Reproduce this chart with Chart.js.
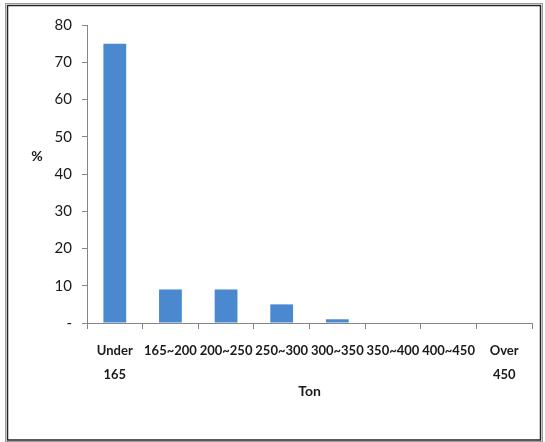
<!DOCTYPE html>
<html>
<head>
<meta charset="utf-8">
<script src="https://cdn.jsdelivr.net/npm/chart.js@4/dist/chart.umd.min.js"></script>
<style>
  html, body { margin: 0; padding: 0; background: #fff; }
  #wrap { width: 545px; height: 442px; position: relative; }
</style>
</head>
<body>
<div id="wrap"><canvas id="c" width="545" height="442"></canvas></div>
<script>
// Tonnage classes and their share of the fleet (%)
const categories = [['Under', '165'], '165~200', '200~250', '250~300', '300~350', '350~400', '400~450', ['Over', '450']];
const shares = [75, 9, 9, 5, 1, 0, 0, 0];
const yTickValues = [0, 10, 20, 30, 40, 50, 60, 70, 80];
const yTitle = '%';
const xTitle = 'Ton';

const axisGray = '#868686';
const textColor = '#1a1a1a';
const barBlue = '#4a89d0';

// Double frame around the whole figure and the horizontal "%" label
const framePlugin = {
  id: 'frame',
  afterDraw(chart) {
    const ctx = chart.ctx;
    ctx.save();
    ctx.strokeStyle = '#9a9a9a';
    ctx.lineWidth = 1;
    ctx.strokeRect(5.5, 3.5, 537, 438);
    ctx.strokeStyle = '#222';
    ctx.lineWidth = 1.5;
    ctx.strokeRect(7.5, 5.5, 533, 434.5);

    ctx.fillStyle = textColor;
    ctx.font = 'bold 14px Lato';
    ctx.textAlign = 'center';
    ctx.textBaseline = 'middle';
    ctx.fillText(yTitle, 37, 156);
    ctx.restore();
  }
};

new Chart(document.getElementById('c'), {
  type: 'bar',
  data: {
    labels: categories,
    datasets: [{
      data: shares,
      backgroundColor: barBlue,
      borderWidth: 0,
      categoryPercentage: 0.82,
      barPercentage: 0.5
    }]
  },
  options: {
    responsive: false,
    animation: false,
    devicePixelRatio: 1,
    layout: { padding: { top: 25, right: 13, left: 0, bottom: 0 } },
    plugins: {
      legend: { display: false },
      tooltip: { enabled: false }
    },
    scales: {
      x: {
        offset: true,
        grid: {
          display: true,
          offset: true,
          drawOnChartArea: false,
          drawTicks: true,
          tickLength: 6,
          color: axisGray
        },
        border: { display: true, color: axisGray, width: 1 },
        ticks: {
          color: textColor,
          padding: 10,
          maxRotation: 0,
          autoSkip: false,
          font: { family: 'Lato', size: 13, weight: 'bold', lineHeight: '24px' }
        },
        title: {
          display: true,
          text: xTitle,
          color: textColor,
          font: { family: 'Lato', size: 14, weight: 'bold', lineHeight: 1.2 },
          padding: { top: 0, bottom: 42 }
        },
        afterFit(scale) { scale.height = 119; }
      },
      y: {
        min: 0,
        max: 80,
        afterBuildTicks(scale) { scale.ticks = yTickValues.map(v => ({ value: v })); },
        grid: {
          display: true,
          drawOnChartArea: false,
          drawTicks: true,
          tickLength: 5,
          color: axisGray
        },
        border: { display: true, color: axisGray, width: 1 },
        ticks: {
          color: textColor,
          padding: 10,
          font: { family: 'Lato', size: 15 },
          callback: (v) => (v === 0 ? '-' : String(v))
        },
        afterFit(scale) { scale.width = 87; }
      }
    }
  },
  plugins: [framePlugin]
});
</script>
</body>
</html>
